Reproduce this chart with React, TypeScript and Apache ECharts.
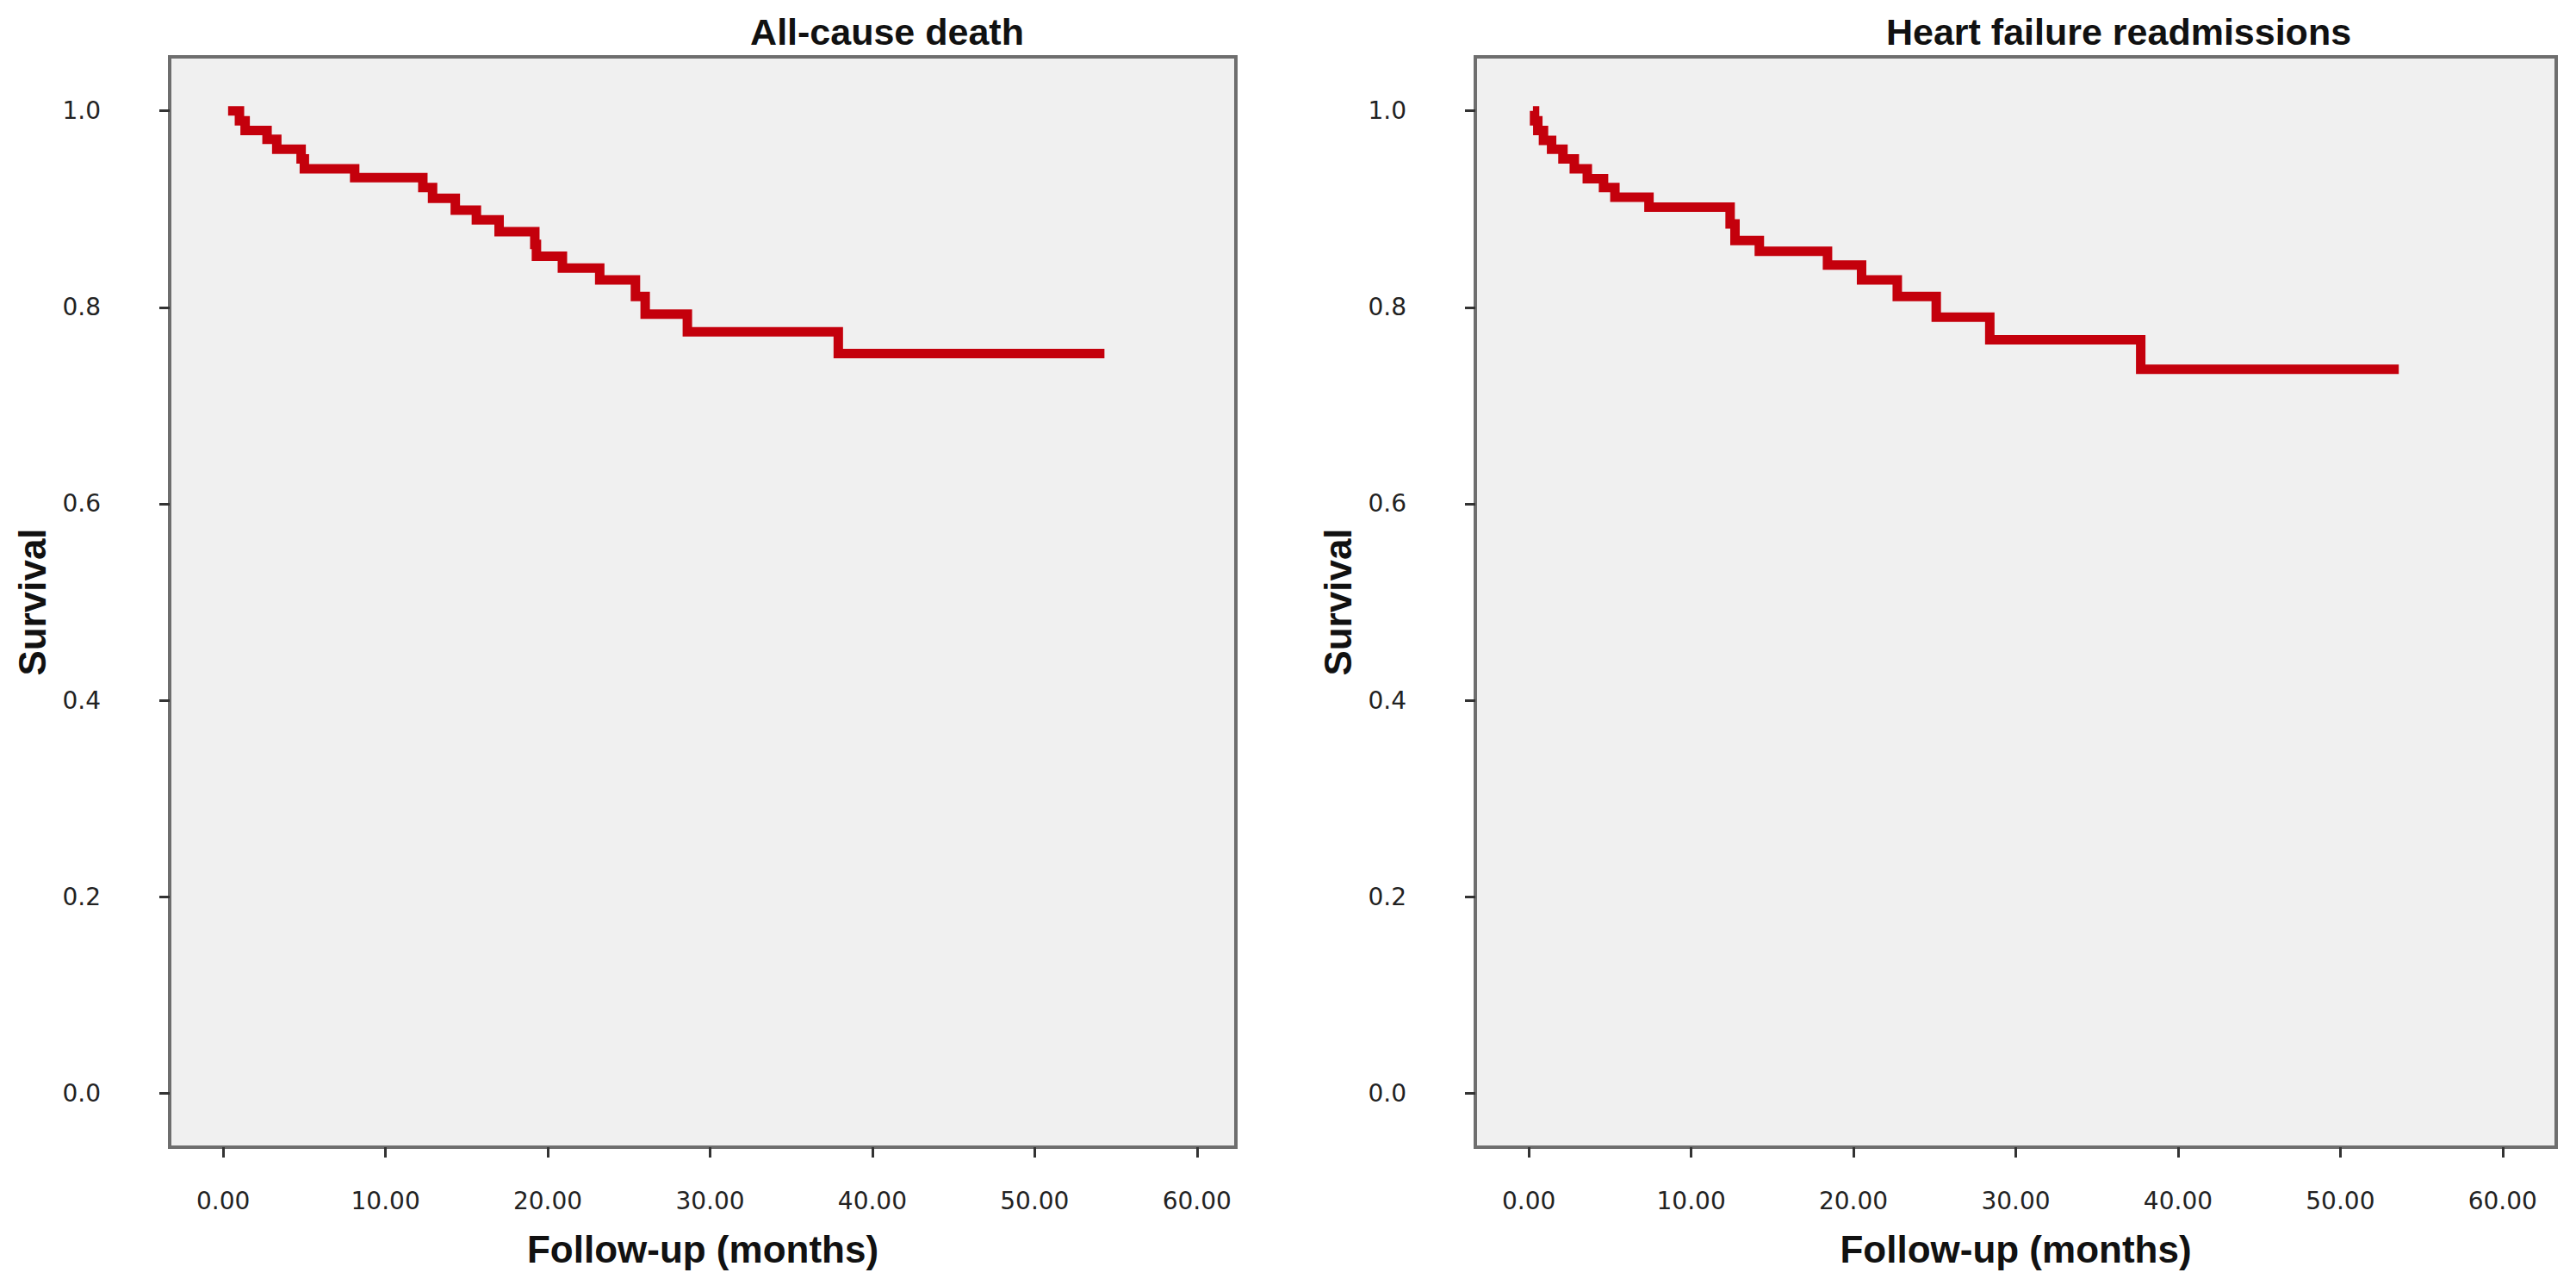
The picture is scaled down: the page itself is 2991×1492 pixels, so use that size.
import React, { useEffect, useRef } from "react";
import * as echarts from "echarts";

// ---- data ----
const panelTitles = ["All-cause death", "Heart failure readmissions"];
const xAxisName = "Follow-up (months)";
const yAxisName = "Survival";
const xTickValues = [0, 10, 20, 30, 40, 50, 60];
const yTickValues = [0, 0.2, 0.4, 0.6, 0.8, 1.0];

// All-cause death: step start month and survival level
const deathMonths = [0.3, 1.0, 1.35, 2.7, 3.3, 4.8, 5.0, 8.1, 12.3, 12.9, 14.3, 15.6, 17.0, 19.2, 19.3, 20.9, 23.2, 25.4, 26.0, 28.6, 37.9, 54.3];
const deathSurvival = [1.0, 0.99, 0.98, 0.971, 0.961, 0.951, 0.941, 0.932, 0.922, 0.911, 0.899, 0.889, 0.877, 0.864, 0.852, 0.84, 0.828, 0.811, 0.793, 0.775, 0.753, 0.753];

// Heart failure readmissions
const readmMonths = [0.25, 0.35, 0.55, 0.9, 1.4, 2.1, 2.8, 3.6, 4.6, 5.3, 7.4, 12.4, 12.7, 14.2, 18.4, 20.5, 22.7, 25.1, 28.4, 37.7, 53.6];
const readmSurvival = [1.0, 0.99, 0.98, 0.97, 0.961, 0.951, 0.941, 0.931, 0.922, 0.912, 0.902, 0.885, 0.868, 0.857, 0.843, 0.828, 0.811, 0.79, 0.767, 0.737, 0.737];

const toPairs = (xs: number[], ys: number[]) => xs.map((x, i) => [x, ys[i]]);

export default function App() {
  const ref = useRef<HTMLDivElement>(null);

  useEffect(() => {
    if (!ref.current) return;
    const chart = echarts.init(ref.current, undefined, { renderer: "svg" });

    const boxLeft = [197, 1713];
    const boxWidth = [1238, 1255];
    const xMax = [62.4, 63.3];
    const boxTop = 66;
    const boxH = 1266;
    const titleCenters = [1025, 2455];
    const lineColor = "#c4000c";
    const frameColor = "#6e6e6e";
    const labelFont = "DejaVu Sans";
    const boldFont = "Liberation Sans, Arial, sans-serif";

    const grids = boxLeft.map((l, i) => ({
      left: l,
      top: boxTop,
      width: boxWidth[i],
      height: boxH,
      show: true,
      backgroundColor: "#f0f0f0",
      borderColor: frameColor,
      borderWidth: 4,
      containLabel: false,
    }));

    const xAxes = boxLeft.map((_, i) => ({
      type: "value",
      gridIndex: i,
      min: -3.3,
      max: xMax[i],
      name: xAxisName,
      nameLocation: "middle",
      nameGap: 96,
      nameTextStyle: { fontFamily: boldFont, fontWeight: "bold", fontSize: 44, color: "#111" },
      axisLine: { show: true, onZero: false, lineStyle: { color: frameColor, width: 4 } },
      axisTick: { show: true, inside: false, length: 12, customValues: xTickValues, lineStyle: { color: "#333", width: 3 } },
      axisLabel: {
        show: true,
        customValues: xTickValues,
        margin: 48,
        fontFamily: labelFont,
        fontSize: 28,
        color: "#222",
        formatter: (v: number) => v.toFixed(2),
      },
      splitLine: { show: false },
    }));

    const yAxes = boxLeft.map((_, i) => ({
      type: "value",
      gridIndex: i,
      min: -0.055,
      max: 1.055,
      name: yAxisName,
      nameLocation: "middle",
      nameGap: 138,
      nameRotate: 90,
      nameTextStyle: { fontFamily: boldFont, fontWeight: "bold", fontSize: 44, color: "#111" },
      axisLine: { show: true, onZero: false, lineStyle: { color: frameColor, width: 4 } },
      axisTick: { show: true, inside: false, length: 12, customValues: yTickValues, lineStyle: { color: "#333", width: 3 } },
      axisLabel: {
        show: true,
        customValues: yTickValues,
        margin: 80,
        fontFamily: labelFont,
        fontSize: 28,
        color: "#222",
        formatter: (v: number) => v.toFixed(1),
      },
      splitLine: { show: false },
    }));

    const seriesData = [toPairs(deathMonths, deathSurvival), toPairs(readmMonths, readmSurvival)];

    chart.setOption({
      animation: false,
      backgroundColor: "#ffffff",
      title: panelTitles.map((t, i) => ({
        text: t,
        left: titleCenters[i],
        top: 10,
        textAlign: "center",
        textStyle: { fontFamily: boldFont, fontWeight: "bold", fontSize: 43, color: "#111" },
      })),
      grid: grids,
      xAxis: xAxes,
      yAxis: yAxes,
      series: seriesData.map((d, i) => ({
        type: "line",
        name: panelTitles[i],
        xAxisIndex: i,
        yAxisIndex: i,
        data: d,
        step: "end",
        showSymbol: false,
        symbol: "none",
        lineStyle: { color: lineColor, width: 11, cap: "butt", join: "miter" },
      })),
    });

    return () => chart.dispose();
  }, []);

  return (
    <div
      ref={ref}
      style={{ position: "fixed", left: 0, top: 0, width: 2991, height: 1492, background: "#fff" }}
    />
  );
}
